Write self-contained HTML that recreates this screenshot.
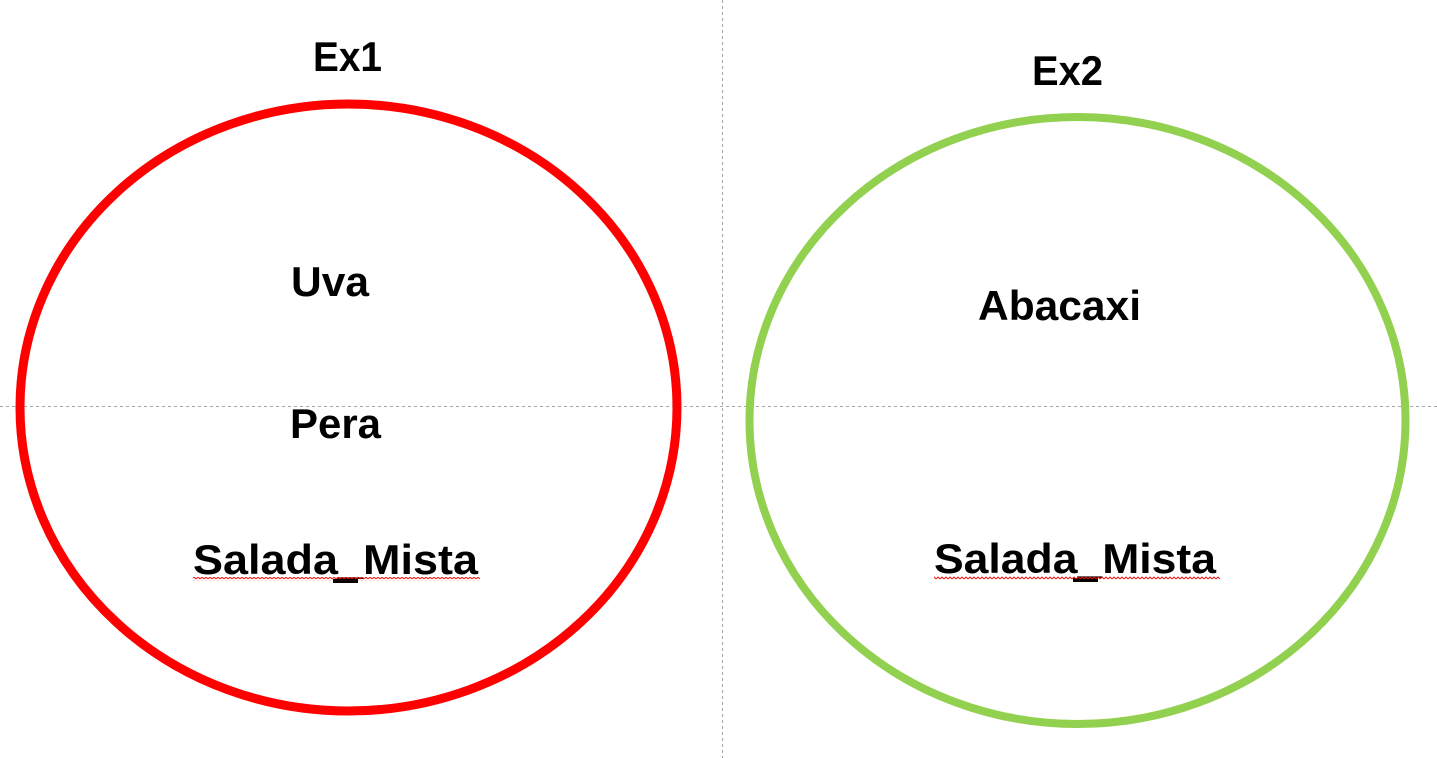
<!DOCTYPE html>
<html><head><meta charset="utf-8"><style>html,body{margin:0;padding:0;background:#fff}svg{display:block}</style></head>
<body>
<svg width="1437" height="758" viewBox="0 0 1437 758" xmlns="http://www.w3.org/2000/svg">
<defs>
<pattern id="sq" width="4" height="4" patternUnits="userSpaceOnUse"><path d="M0 3 L2 1 L4 3" fill="none" stroke="#f00" stroke-width="0.9"/></pattern>
</defs>
<line x1="0" y1="406.5" x2="1437" y2="406.5" stroke="#a6a6a6" stroke-width="1" stroke-dasharray="3,3"/>
<line x1="722.5" y1="0" x2="722.5" y2="758" stroke="#a6a6a6" stroke-width="1" stroke-dasharray="3,3"/>
<ellipse cx="348.5" cy="407.5" rx="328.5" ry="303.5" fill="none" stroke="#ff0000" stroke-width="9"/>
<ellipse cx="1077.5" cy="420.5" rx="328" ry="303.5" fill="none" stroke="#92d050" stroke-width="8"/>
<g font-family="Liberation Sans, sans-serif" font-weight="bold" font-size="42" fill="#000">
<text x="313" y="71" textLength="69" lengthAdjust="spacingAndGlyphs">Ex1</text>
<text x="1032" y="85" textLength="71" lengthAdjust="spacingAndGlyphs">Ex2</text>
<text x="291" y="296" textLength="78" lengthAdjust="spacingAndGlyphs">Uva</text>
<text x="290" y="438" textLength="91" lengthAdjust="spacingAndGlyphs">Pera</text>
<text x="193" y="574" textLength="285" lengthAdjust="spacingAndGlyphs">Salada_Mista</text>
<text x="978" y="320" textLength="163" lengthAdjust="spacingAndGlyphs">Abacaxi</text>
<text x="934" y="573" textLength="282" lengthAdjust="spacingAndGlyphs">Salada_Mista</text>
</g>
<rect x="333" y="579" width="25" height="4" fill="#000"/>
<rect x="1073" y="578" width="25" height="4" fill="#000"/>
<rect x="193" y="577" width="287" height="4" fill="url(#sq)"/>
<rect x="934" y="576" width="286" height="4" fill="url(#sq)"/>
</svg>
</body></html>
